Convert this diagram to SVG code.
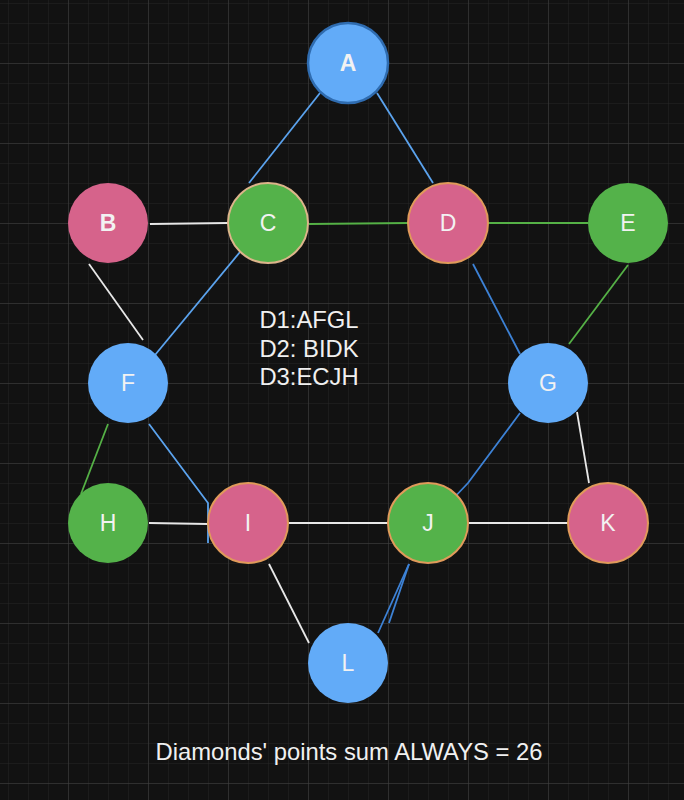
<svg xmlns="http://www.w3.org/2000/svg" width="684" height="800" viewBox="0 0 684 800">
<defs>
<pattern id="minor" x="8" y="3" width="20" height="20" patternUnits="userSpaceOnUse">
<path d="M20 0 L0 0 L0 20" fill="none" stroke="#262626" stroke-width="1"/>
</pattern>
<pattern id="major" x="68" y="63" width="80" height="80" patternUnits="userSpaceOnUse">
<path d="M80 0 L0 0 L0 80" fill="none" stroke="#414141" stroke-width="1"/>
</pattern>
</defs>
<style>
.blue{fill:#62abf8}
.pink{fill:#d6638b}
.green{fill:#54b24a}
.tan{stroke:#dcb48a;stroke-width:2}
.orange{stroke:#e09a5a;stroke-width:2}
.darkblue{stroke:#2f6cb0;stroke-width:2.5}
.lbl{font-family:"Liberation Sans",Arial,sans-serif;font-size:23px;fill:#f2f2f2;text-anchor:middle}
.bold{font-weight:bold}
.txt{font-family:"Liberation Sans",Arial,sans-serif;font-size:23.8px;fill:#f0f0f0;text-anchor:middle}
.c{fill:none;stroke-width:1.8}
.lb{stroke:#5ba3ee}
.db{stroke:#3d82d6}
.w{stroke:#e8e8e8}
.g{stroke:#55b146}
</style>
<rect width="684" height="800" fill="#121212"/>
<rect width="684" height="800" fill="url(#minor)"/>
<rect width="684" height="800" fill="url(#major)"/>
<g id="connectors">
<path class="c lb" d="M320 93 L249 183"/>
<path class="c lb" d="M377 93 L433 183"/>
<path class="c w" d="M150 224 L228 223"/>
<path class="c g" d="M309 224 L409 223"/>
<path class="c g" d="M489 223 L588 223"/>
<path class="c w" d="M89 264 L143 340"/>
<path class="c lb" d="M240 252 L155 355"/>
<path class="c db" d="M473 264 L520 354"/>
<path class="c g" d="M628 265 L569 344"/>
<path class="c g" d="M108 424 L81 494"/>
<path class="c lb" d="M149 424 L208 503 L208 543"/>
<path class="c w" d="M149 523 L208 524"/>
<path class="c w" d="M289 523 L388 523"/>
<path class="c w" d="M469 523 L568 523"/>
<path class="c w" d="M577 412 L589 483"/>
<path class="c db" d="M520 413 L468 483 L449 503"/>
<path class="c w" d="M269 564 L309 643"/>
<path class="c db" d="M409 564 L378 633"/>
<path class="c db" d="M409 564 L389 623"/>
</g>
<g id="node-A"><circle cx="348" cy="63" r="40" class="blue darkblue"/><text x="348" y="71" class="lbl bold">A</text></g>
<g id="node-B"><circle cx="108" cy="223" r="40" class="pink"/><text x="108" y="231" class="lbl bold">B</text></g>
<g id="node-C"><circle cx="268" cy="223" r="40" class="green tan"/><text x="268" y="231" class="lbl">C</text></g>
<g id="node-D"><circle cx="448" cy="223" r="40" class="pink orange"/><text x="448" y="231" class="lbl">D</text></g>
<g id="node-E"><circle cx="628" cy="223" r="40" class="green"/><text x="628" y="231" class="lbl">E</text></g>
<g id="node-F"><circle cx="128" cy="383" r="40" class="blue"/><text x="128" y="391" class="lbl">F</text></g>
<g id="node-G"><circle cx="548" cy="383" r="40" class="blue"/><text x="548" y="391" class="lbl">G</text></g>
<g id="node-H"><circle cx="108" cy="523" r="40" class="green"/><text x="108" y="531" class="lbl">H</text></g>
<g id="node-I"><circle cx="248" cy="523" r="40" class="pink orange"/><text x="248" y="531" class="lbl">I</text></g>
<g id="node-J"><circle cx="428" cy="523" r="40" class="green orange"/><text x="428" y="531" class="lbl">J</text></g>
<g id="node-K"><circle cx="608" cy="523" r="40" class="pink orange"/><text x="608" y="531" class="lbl">K</text></g>
<g id="node-L"><circle cx="348" cy="663" r="40" class="blue"/><text x="348" y="671" class="lbl">L</text></g>
<g id="notes">
<text x="309" y="328" class="txt">D1:AFGL</text>
<text x="309" y="357" class="txt">D2: BIDK</text>
<text x="309" y="385" class="txt">D3:ECJH</text>
</g>
<g id="caption"><text x="349" y="760" class="txt">Diamonds' points sum ALWAYS = 26</text></g>
</svg>
